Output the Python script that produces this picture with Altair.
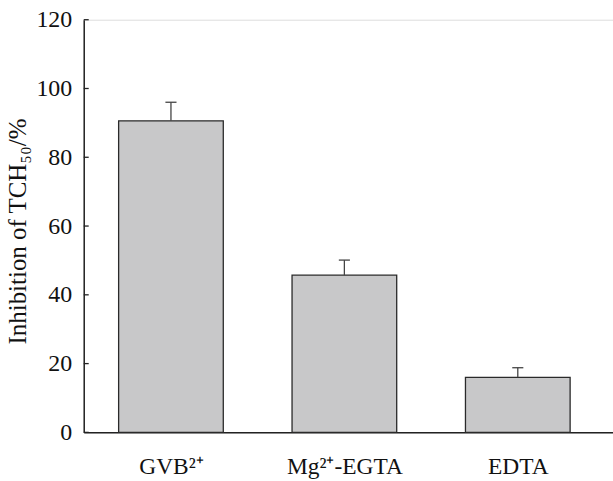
import altair as alt
import pandas as pd

categories = ["GVB²⁺", "Mg²⁺-EGTA", "EDTA"]
positions = [0, 1, 2]
values = [90.6, 45.7, 16.0]
errors = [5.4, 4.4, 2.8]
y_ticks = [0, 20, 40, 60, 80, 100, 120]

df = pd.DataFrame({"cat": categories, "pos": positions, "value": values, "err": errors})
df["top"] = df["value"] + df["err"]
ticks_df = pd.DataFrame({"t": y_ticks})

FONT = "Liberation Serif"
xscale = alt.Scale(domain=[-0.503, 2.549], nice=False, zero=False, padding=0)
yscale = alt.Scale(domain=[0, 120], nice=False, padding=0)

label_expr = "datum.value == 0 ? 'GVB²⁺' : datum.value == 1 ? 'Mg²⁺-EGTA' : datum.value == 2 ? 'EDTA' : ''"

base = alt.Chart(df)

bars = base.mark_bar(size=105, fill="#c8c8c9", stroke="#2a2a2a", strokeWidth=1.3).encode(
    x=alt.X("pos:Q", scale=xscale,
            axis=alt.Axis(values=positions, labelExpr=label_expr, ticks=False, tickSize=0,
                          grid=False, title=None, labelPadding=22, labelFont=FONT,
                          labelFontSize=23.5, labelColor="#111", labelFlush=False,
                          labelOverlap=False, domainColor="#222", domainWidth=1.5)),
    y=alt.Y("value:Q", scale=yscale,
            axis=alt.Axis(values=y_ticks, ticks=False, tickSize=0, grid=False,
                          labelPadding=12, labelFont=FONT, labelFontSize=24,
                          labelColor="#111", domainColor="#222", domainWidth=1.5,
                          title="Inhibition of TCH₅₀/%", titleFont=FONT, titleFontSize=25,
                          titleFontWeight="normal", titleColor="#111",
                          titleX=-58, titleY=212, titleBaseline="alphabetic",
                          titleAlign="center", titleAngle=-90)),
)

err_line = base.mark_rule(color="#444", strokeWidth=1.3).encode(
    x=alt.X("pos:Q", scale=xscale),
    y=alt.Y("value:Q", scale=yscale),
    y2="top:Q",
)

caps = base.transform_calculate(
    cl="datum.pos - 0.032", cr="datum.pos + 0.032"
).mark_rule(color="#444", strokeWidth=1.3).encode(
    x=alt.X("cl:Q", scale=xscale),
    x2="cr:Q",
    y=alt.Y("top:Q", scale=yscale),
)

inner_ticks = alt.Chart(ticks_df).mark_rule(color="#222", strokeWidth=1.3).encode(
    x=alt.value(0),
    x2=alt.value(5),
    y=alt.Y("t:Q", scale=yscale),
)

chart = alt.layer(bars, err_line, caps, inner_ticks).properties(
    width=531, height=414,
    autosize=alt.AutoSizeParams(type="none"),
    padding={"left": 84, "top": 19, "right": 0, "bottom": 48},
).configure_view(stroke="#222", strokeWidth=1.5).configure(background="white")

chart.save("out.html", embed_options={"renderer": "svg", "actions": False})
